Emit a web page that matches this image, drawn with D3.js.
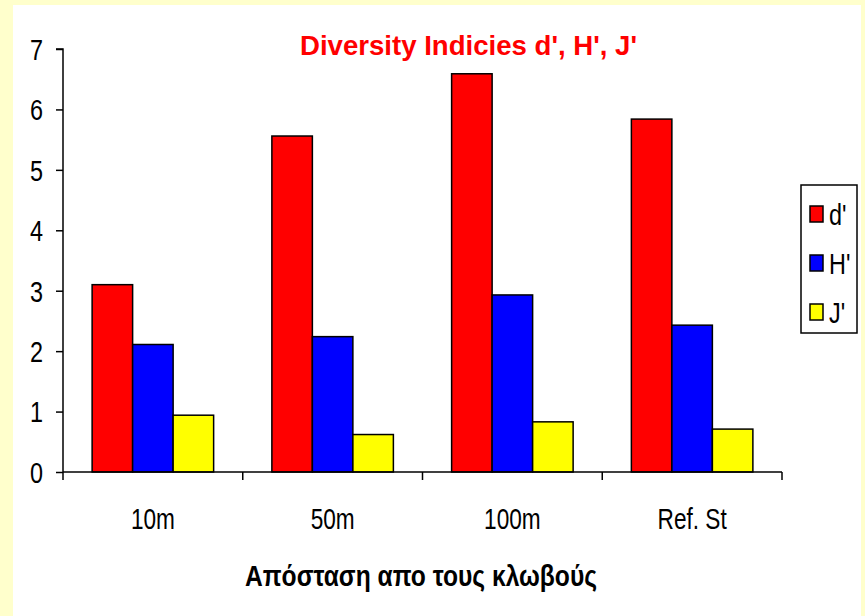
<!DOCTYPE html>
<html><head><meta charset="utf-8">
<script src="https://cdn.jsdelivr.net/npm/d3@7"></script>
<style>
html,body{margin:0;padding:0;background:#FFFFCC;}
svg{display:block;}
text{font-family:'Liberation Sans',Arial,sans-serif;}
</style></head>
<body>
<script>
const categories = ["10m", "50m", "100m", "Ref. St"];
const seriesNames = ["d'", "H'", "J'"];
const dValues = [3.10, 5.56, 6.59, 5.84];
const hValues = [2.11, 2.24, 2.93, 2.43];
const jValues = [0.94, 0.62, 0.83, 0.71];
const yTicks = [0, 1, 2, 3, 4, 5, 6, 7];
const colors = ["#FF0000", "#0000FF", "#FFFF00"];
const titleText = "Diversity Indicies d', H', J'";
const xTitleText = "Απόσταση απο τους κλωβούς";

(function () {
const W = 865, H = 616;
const SX = 0.78;
const svg = d3.select("body").append("svg").attr("width", W).attr("height", H);
svg.append("rect").attr("x", 0).attr("y", 0).attr("width", W).attr("height", H).attr("fill", "#FFFFCC");
svg.append("rect").attr("x", 13).attr("y", 5).attr("width", 848).attr("height", H - 5).attr("fill", "#FFFFFF");

const pL = 63, pR = 782, pT = 49, pB = 472;
const x = d3.scaleBand().domain(categories).range([pL, pR]).paddingInner(0.324).paddingOuter(0.162);
const y = d3.scaleLinear().domain([0, 7]).range([pB, pT]);
const xs = d3.scaleBand().domain(seriesNames).range([0, x.bandwidth()]);
const data = [dValues, hValues, jValues];

categories.forEach((c, i) => {
  seriesNames.forEach((s, k) => {
    const v = data[k][i];
    svg.append("rect")
      .attr("x", x(c) + xs(s))
      .attr("y", y(v))
      .attr("width", xs.bandwidth())
      .attr("height", y(0) - y(v))
      .attr("fill", colors[k])
      .attr("stroke", "#000")
      .attr("stroke-width", 1.5);
  });
});

// y axis (labels drawn condensed)
const yAxis = d3.axisLeft(y).tickValues(yTicks).tickSize(7).tickFormat("");
const ya = svg.append("g").attr("transform", `translate(${pL},0)`).call(yAxis);
ya.select(".domain").attr("stroke", "#000").attr("stroke-width", 1.5).attr("d", `M-7,${pT}H0V${pB}`);
ya.selectAll(".tick line").attr("stroke", "#000").attr("stroke-width", 1.5);
svg.append("g").selectAll("text").data(yTicks).enter().append("text")
  .attr("transform", d => `translate(${pL - 20},${y(d)}) scale(${SX},1)`)
  .attr("dy", "0.36em").attr("text-anchor", "end").attr("font-size", 30).attr("fill", "#000")
  .text(d => d3.format("d")(d));

// x axis
const boundaries = categories.map(c => x(c) - x.step() * x.paddingInner() / 2).concat([pR]);
const xa = svg.append("g").attr("transform", `translate(0,${pB})`);
xa.append("line").attr("x1", pL).attr("x2", pR).attr("y1", 0).attr("y2", 0).attr("stroke", "#000").attr("stroke-width", 1.5);
xa.selectAll("line.tk").data(boundaries).enter().append("line").attr("class", "tk")
  .attr("x1", d => d).attr("x2", d => d).attr("y1", 0).attr("y2", 8).attr("stroke", "#000").attr("stroke-width", 1.5);
xa.selectAll("text").data(categories).enter().append("text")
  .attr("transform", d => `translate(${x(d) + x.bandwidth() / 2},57) scale(${SX},1)`)
  .attr("text-anchor", "middle").attr("font-size", 29).attr("fill", "#000").text(d => d);

svg.append("text").attr("x", 300).attr("y", 55).attr("font-size", 28).attr("font-weight", "bold")
  .attr("fill", "#FF0000").attr("textLength", 337).attr("lengthAdjust", "spacingAndGlyphs").text(titleText);

svg.append("text").attr("x", 245).attr("y", 586).attr("font-size", 29).attr("font-weight", "bold")
  .attr("fill", "#000").attr("textLength", 352).attr("lengthAdjust", "spacingAndGlyphs").text(xTitleText);

const lg = svg.append("g");
lg.append("rect").attr("x", 801).attr("y", 185).attr("width", 56).attr("height", 148)
  .attr("fill", "#fff").attr("stroke", "#000").attr("stroke-width", 1.5);
seriesNames.forEach((s, k) => {
  const cy = 214 + k * 49;
  lg.append("rect").attr("x", 810).attr("y", cy - 8).attr("width", 13).attr("height", 16)
    .attr("fill", colors[k]).attr("stroke", "#000").attr("stroke-width", 1.5);
  lg.append("text").attr("transform", `translate(829,${cy + 11}) scale(${SX},1)`)
    .attr("font-size", 30).attr("fill", "#000").text(s);
});
})();
</script>
</body></html>
